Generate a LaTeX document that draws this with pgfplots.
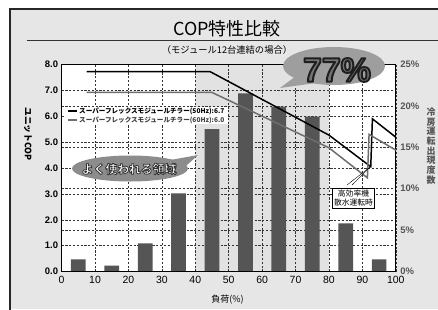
\documentclass[border=0pt]{standalone}
\usepackage{pgfplots}
\pgfplotsset{compat=1.18}
\usepackage{fontspec}
\setmainfont{Liberation Sans}
\newfontfamily\jp{Noto Sans CJK JP}
\definecolor{bgc}{HTML}{E6E6E6}
\definecolor{shadec}{HTML}{E2E2E2}
\definecolor{barc}{HTML}{555555}
\definecolor{grayline}{HTML}{6E6E6E}
\definecolor{labgray}{HTML}{555555}
\pgfplotsset{base/.style={at={(61.6bp,37.5bp)}, anchor=south west, scale only axis,
  width=334.2bp, height=207bp, xmin=0, xmax=100, major tick length=0pt,
  grid style={black!80, dash pattern=on 2.2pt off 1.6pt, line width=0.5pt}}}
% outlined text: #1 stroke width, #2 stroke rgb, #3 text
\newcommand{\outltext}[3]{\special{pdf:literal direct 2 Tr #1 w #2 RG 1 j}#3\special{pdf:literal direct 0 Tr}}
\begin{document}
\begin{tikzpicture}[x=1bp,y=1bp]
\useasboundingbox (0,0) rectangle (438,309);
\fill[white] (0,0) rectangle (438,309);
\fill[bgc] (10,0) rectangle (438,300);
\draw[line width=2bp, black!85] (10,-2) -- (10,300) -- (440,300);
% title
\node[font=\jp\fontsize{18}{20}\selectfont, inner sep=0] at (227,280) {COP特性比較};
\draw[line width=0.6bp, black!80] (26.7,268.3) -- (440,268.3);
\node[font=\jp\fontsize{9.3}{10}\selectfont, inner sep=0] at (227,259) {（モジュール12台連結の場合）};
% background fills
\begin{axis}[base, hide axis, ymin=0, ymax=8]
\addplot[fill=white, draw=none] coordinates {(0,0)(0,8)(100,8)(100,0)} \closedcycle;
\addplot[fill=shadec, draw=none] coordinates {(40,0)(40,8)(80,8)(80,0)} \closedcycle;
\end{axis}
% COP grid
\begin{axis}[base, ymin=0, ymax=8, ytick={0,1,...,8}, xtick={0,10,...,100},
  ymajorgrids, xmajorgrids, axis line style={draw=none}, xticklabels={}, yticklabels={}]
\addplot[draw=none] coordinates {(0,0)};
\end{axis}
% percentage axis with bars
\begin{axis}[base, ymin=0, ymax=25, ytick={0,5,...,25}, ymajorgrids,
  axis y line*=right, axis x line=none, axis line style={draw=none},
  yticklabel={\pgfmathprintnumber{\tick}\%},
  yticklabel style={font=\bfseries\fontsize{9.5}{10}\selectfont, text=labgray, xshift=1bp},
  /pgf/number format/assume math mode=true]
\addplot[ybar, bar width=4.4, fill=barc, draw=none] coordinates
 {(5,1.47)(15,0.7)(25,3.4)(35,9.44)(45,17.2)(55,21.5)(65,19.9)(75,18.7)(85,5.8)(95,1.47)};
\end{axis}
% COP axis with lines
\begin{axis}[base, ymin=0, ymax=8, ytick={0,1,...,8}, xtick={0,10,...,100},
  axis line style={black, line width=1.1pt},
  yticklabel style={font=\bfseries\fontsize{9.5}{10}\selectfont, /pgf/number format/.cd, fixed, fixed zerofill, precision=1},
  xticklabel style={font=\fontsize{10.5}{11}\selectfont, yshift=-1bp},
  /pgf/number format/assume math mode=true]
\addplot[black, line width=1.5pt] coordinates
 {(7.5,7.72)(44.5,7.72)(80,5.27)(92.5,4.05)(93,5.9)(100,5.19)};
\addplot[grayline, line width=1.5pt] coordinates
 {(7.5,6.92)(45,6.92)(80,4.78)(91.5,3.62)(92,5.3)(100,4.69)};
\end{axis}
% axis titles
\node[rotate=-90, font=\jp\bfseries\fontsize{8.8}{10}\selectfont, inner sep=0] at (28,175) {ユニットCOP};
\node[font=\jp\bfseries\fontsize{9}{9.7}\selectfont, text=labgray, align=center, inner sep=0] at (431,163) {冷\\房\\運\\転\\出\\現\\度\\数};
\node[font=\jp\fontsize{9}{10}\selectfont, inner sep=0] at (227.5,9) {負荷(\%)};
% legend
\fill[white] (65,185) rectangle (228,202);
\draw[black, line width=1.5pt] (68,198) -- (77,198);
\draw[grayline, line width=1.5pt] (68,189) -- (77,189);
\node[anchor=west, inner sep=0, font=\jp\bfseries\fontsize{6.6}{7}\selectfont] at (79,198) {スーパーフレックスモジュールチラー(50Hz):6.7};
\node[anchor=west, inner sep=0, font=\jp\bfseries\fontsize{6.6}{7}\selectfont, text=black!75] at (79,189) {スーパーフレックスモジュールチラー(60Hz):6.0};
% よく使われる領域 bubble
\fill[black!45] (165,148) -- (198,154) -- (176,134) -- cycle;
\fill[black!45] (130,140.5) ellipse [x radius=58, y radius=13];
\node[inner sep=0, text=white, font=\jp\bfseries\fontsize{12}{12}\selectfont] at (129,140)
  {\outltext{0.8}{0.2 0.2 0.2}{よく使われる領域}};
% 77% bubble
\fill[black!38] (296,233) -- (280,221) -- (316,226) -- cycle;
\fill[black!38] (334,243) ellipse [x radius=51, y radius=19];
\node[inner sep=0, text=black!55, font=\bfseries\fontsize{34}{34}\selectfont] at (337,239)
  {\outltext{2}{0.12 0.12 0.12}{77\%}};
% callout
\draw[black, line width=0.4pt] (347,124) -- (370.6,142.4);
\draw[black, line width=0.4pt] (352,124) -- (370.6,142.4);
\node[draw=black, line width=0.6pt, fill=white, align=center, inner sep=1.5bp,
  font=\jp\fontsize{7.8}{9.5}\selectfont] at (353.5,111) {高効率機\\散水運転時};
\end{tikzpicture}
\end{document}
